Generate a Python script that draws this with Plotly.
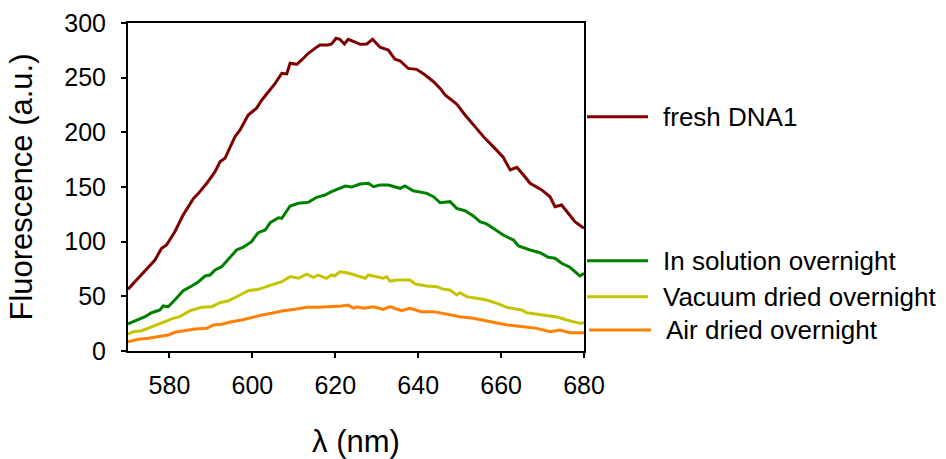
import plotly.graph_objects as go

# ---- data ----
fresh_x = [570.0, 572.5, 574.9, 576.5, 578.1, 579.3, 581.3, 583.3, 585.8, 587.0, 589.0, 591.0, 592.2, 593.4,
           595.8, 597.0, 599.0, 601.0, 602.3, 603.9, 605.5, 607.1, 608.3, 609.1, 610.7, 611.9, 613.5, 615.1,
           616.3, 618.3, 619.1, 620.2, 621.1, 622.2, 623.1, 624.8, 626.0, 627.6, 629.0, 630.8, 632.8, 634.4,
           635.6, 637.6, 639.6, 641.7, 643.7, 645.3, 646.5, 649.3, 651.3, 653.7, 656.1, 658.1, 660.5, 662.2,
           663.8, 665.4, 667.0, 669.8, 671.8, 673.0, 674.6, 676.2, 677.8, 680.0]
fresh_y = [56.4, 66.5, 77.1, 83.2, 93.9, 97.0, 109.1, 124.4, 139.6, 144.2, 153.4, 164.0, 173.1, 176.2,
           196.0, 202.0, 215.8, 222.0, 229.6, 237.2, 244.8, 254.0, 253.4, 263.2, 262.2, 266.2, 272.3, 276.8,
           279.9, 279.9, 280.8, 286.0, 285.1, 280.8, 285.1, 282.5, 280.5, 280.8, 285.1, 277.8, 275.3, 266.8,
           265.5, 258.5, 257.6, 252.4, 246.3, 240.2, 234.2, 225.9, 215.9, 205.2, 194.5, 186.9, 177.2, 165.6,
           168.0, 161.0, 153.4, 147.3, 141.1, 132.0, 133.5, 126.0, 118.3, 112.2]

sol_x = [570.0, 572.1, 574.1, 575.7, 577.7, 578.5, 579.7, 581.3, 583.3, 585.4, 587.0, 588.6, 589.8, 591.0,
         592.6, 594.2, 596.2, 597.8, 599.8, 601.4, 603.1, 604.3, 606.3, 607.1, 609.1, 611.1, 613.5, 615.5,
         617.5, 619.1, 620.7, 622.4, 624.0, 626.0, 628.0, 629.2, 630.8, 632.8, 635.6, 636.8, 638.8, 642.1,
         643.7, 645.3, 647.7, 649.3, 651.3, 653.3, 654.9, 656.5, 658.1, 660.5, 663.0, 664.2, 667.0, 669.4,
         671.4, 673.0, 674.6, 676.6, 679.0, 680.0]
sol_y = [24.7, 28.4, 31.4, 35.0, 37.5, 41.2, 40.5, 46.6, 55.2, 59.5, 63.4, 68.6, 69.5, 74.1,
         77.1, 83.9, 92.4, 94.9, 100.0, 108.2, 110.7, 117.4, 121.9, 121.4, 132.6, 135.1, 136.0, 140.6,
         142.7, 145.7, 147.9, 150.9, 150.0, 152.7, 153.4, 150.3, 151.8, 151.8, 148.8, 150.9, 146.6, 144.2,
         141.1, 135.6, 136.6, 130.5, 128.3, 123.5, 118.3, 116.2, 112.2, 106.1, 101.5, 96.0, 92.4, 89.9,
         85.7, 84.8, 80.2, 76.6, 68.6, 71.0]

vac_x = [570.0, 571.3, 573.3, 575.7, 578.5, 580.9, 582.5, 585.0, 587.8, 590.2, 592.2, 594.2, 596.6, 599.0,
         601.4, 603.9, 607.1, 609.1, 611.1, 613.1, 614.7, 615.9, 617.9, 619.1, 619.9, 621.1, 622.8, 624.3,
         625.6, 627.2, 628.0, 630.0, 631.6, 632.4, 633.2, 634.8, 638.0, 639.3, 642.1, 644.5, 646.1, 647.7,
         649.3, 650.1, 651.7, 654.1, 656.5, 659.0, 661.4, 663.8, 665.0, 666.2, 668.6, 671.0, 673.8, 675.8,
         679.0, 680.0]
vac_y = [15.5, 17.7, 18.6, 22.2, 25.9, 29.9, 31.4, 36.9, 40.0, 40.5, 44.2, 46.0, 50.3, 55.2,
         56.4, 59.5, 63.4, 68.0, 66.5, 70.2, 67.4, 69.5, 66.5, 69.5, 68.6, 72.5, 71.6, 70.0,
         68.6, 66.5, 69.5, 68.0, 66.5, 68.0, 64.0, 64.9, 64.9, 61.3, 59.5, 58.8, 56.4, 55.8,
         51.2, 53.3, 49.7, 48.2, 46.6, 43.6, 40.0, 38.1, 37.5, 35.0, 33.8, 32.0, 30.8, 28.4,
         25.3, 25.9]

air_x = [570.0, 572.5, 574.9, 577.3, 579.7, 581.3, 583.8, 586.2, 589.0, 590.6, 592.6, 595.0, 597.4, 599.8,
         602.3, 604.7, 607.1, 610.3, 613.1, 615.9, 619.1, 621.6, 623.1, 624.4, 625.2, 626.8, 629.2, 631.6,
         633.2, 636.0, 638.0, 640.8, 643.7, 646.9, 650.1, 653.3, 657.3, 661.4, 665.4, 668.6, 671.8, 674.2,
         676.6, 680.0]
air_y = [8.5, 10.7, 11.6, 13.1, 14.6, 17.1, 18.6, 20.1, 20.7, 23.8, 24.4, 26.8, 28.4, 30.8,
         32.9, 34.5, 36.6, 38.1, 40.0, 40.0, 40.5, 41.2, 42.1, 39.1, 40.5, 39.1, 40.5, 38.1,
         40.5, 36.9, 39.1, 36.0, 36.0, 33.8, 31.4, 29.9, 26.8, 23.8, 22.2, 20.7, 17.7, 19.2,
         16.7, 16.7]

series_names = ["fresh DNA1", "In solution overnight", "Vacuum dried overnight", "Air dried overnight"]
label_levels = [214.3, 82.6, 49.7, 19.2]   # y position of each in-chart label
x_ticks = [580, 600, 620, 640, 660, 680]
y_ticks = [0, 50, 100, 150, 200, 250, 300]

colors = ["#800000", "#008000", "#c4c400", "#ff8000"]
FONT = "Liberation Sans, Arial, Helvetica, sans-serif"

fig = go.Figure()
for xs, ys, name, c in zip([fresh_x, sol_x, vac_x, air_x], [fresh_y, sol_y, vac_y, air_y],
                           series_names, colors):
    fig.add_trace(go.Scatter(x=xs, y=ys, mode="lines", name=name,
                             line=dict(color=c, width=3), showlegend=False))

# in-chart labels with line samples to the right of the plot
line_x0 = [1.0066, 1.0066, 1.0066, 1.011]
line_x1 = [1.1404, 1.1404, 1.1404, 1.147]
text_x = [1.168, 1.168, 1.168, 1.175]
for name, lvl, c, a, b, t in zip(series_names, label_levels, colors, line_x0, line_x1, text_x):
    fig.add_shape(type="line", xref="paper", yref="y", x0=a, x1=b, y0=lvl, y1=lvl,
                  line=dict(color=c, width=3))
    fig.add_annotation(xref="paper", yref="y", x=t, y=lvl, text=name, showarrow=False,
                       xanchor="left", yanchor="middle",
                       font=dict(family=FONT, size=26, color="black"))

fig.update_layout(
    width=946, height=459,
    margin=dict(l=128, r=362, t=23, b=108),
    paper_bgcolor="white", plot_bgcolor="white",
    font=dict(family=FONT, color="black"),
)
fig.update_xaxes(
    range=[570, 680], tickvals=x_ticks, ticks="outside", ticklen=5, tickwidth=1.5,
    tickcolor="black", showline=True, linecolor="black", linewidth=2, mirror=True,
    showgrid=False, zeroline=False, tickfont=dict(size=25), ticklabelstandoff=6,
    automargin=False,
    title=dict(text="λ (nm)", font=dict(size=31), standoff=32),
)
fig.update_yaxes(
    range=[0, 300], tickvals=y_ticks, ticks="outside", ticklen=5, tickwidth=1.5,
    tickcolor="black", showline=True, linecolor="black", linewidth=2, mirror=True,
    showgrid=False, zeroline=False, tickfont=dict(size=25), ticklabelstandoff=10,
    automargin=False,
    title=dict(text="Fluorescence (a.u.)", font=dict(size=31), standoff=22),
)

fig.write_html("out.html")
